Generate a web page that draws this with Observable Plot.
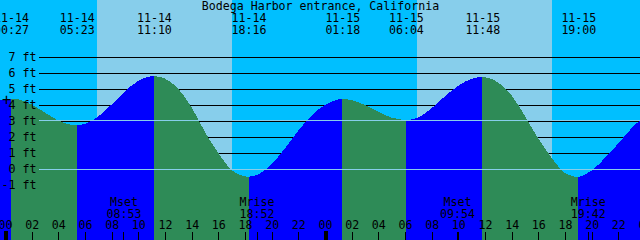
<!DOCTYPE html>
<html>
<head>
<meta charset="utf-8">
<script src="https://cdn.jsdelivr.net/npm/d3@7"></script>
<script src="https://cdn.jsdelivr.net/npm/@observablehq/plot@0.6"></script>
<style>
  html, body { margin: 0; padding: 0; background: #00BFFF; }
  svg { display: block; }
</style>
</head>
<body>
<div id="chart"></div>
<script>
// ---- data (hours since 11-14 00:00, heights in feet) ----
const title = "Bodega Harbor entrance, California";
const tideHours = [-0.375, 0, 0.45, 1, 2, 3, 4, 5, 5.383, 6, 7, 8, 9, 10, 11, 11.167, 12, 13, 14, 15, 16, 17, 18, 18.267, 19, 20, 21, 22, 23, 24, 25, 25.3, 26, 27, 28, 29, 30, 30.067, 31, 32, 33, 34, 35, 35.8, 36, 37, 38, 39, 40, 41, 42, 43, 44, 45, 46, 47, 47.625];
const tideFeet  = [4.30, 4.37, 4.40, 4.35, 4.03, 3.52, 3.03, 2.76, 2.73, 2.82, 3.29, 4.04, 4.86, 5.51, 5.80, 5.81, 5.65, 5.00, 3.85, 2.30, 1.00, -0.07, -0.46, -0.48, -0.33, 0.30, 1.30, 2.40, 3.35, 4.00, 4.35, 4.38, 4.31, 4.00, 3.58, 3.21, 3.06, 3.05, 3.22, 3.80, 4.55, 5.20, 5.64, 5.75, 5.74, 5.40, 4.60, 3.30, 1.90, 0.70, -0.25, -0.52, -0.10, 0.69, 1.60, 2.55, 3.05];
const tideEventHours = [0.45, 5.383, 11.167, 18.267, 25.3, 30.067, 35.8, 43];
const tideEventDates = ["11-14", "11-14", "11-14", "11-14", "11-15", "11-15", "11-15", "11-15"];
const tideEventTimes = ["00:27", "05:23", "11:10", "18:16", "01:18", "06:04", "11:48", "19:00"];
const moonEventHours = [8.883, 18.867, 33.9, 43.7];
const moonEventNames = ["Mset", "Mrise", "Mset", "Mrise"];
const moonEventTimes = ["08:53", "18:52", "09:54", "19:42"];
const sunriseHours = [6.9, 30.9];
const sunsetHours = [17.025, 41.025];
const hourTicks = [0, 2, 4, 6, 8, 10, 12, 14, 16, 18, 20, 22, 24, 26, 28, 30, 32, 34, 36, 38, 40, 42, 44, 46, 48];
const dayTicks = [0, 24, 48];
const depthLines = [0, 1, 2, 3, 4, 5, 6, 7];
const depthLabels = [-1, 0, 1, 2, 3, 4, 5, 6, 7];
const markFeet = [0, 3.0625];   // datum and mean level lines
const nowHour = [0.075];
const nowFeet = [4.33];

// ---- build ----
const xDomain = [-0.375, 47.625];
const yDomain = [-4.4375, 10.5625];
const pts = tideHours.map((h, i) => ({h, ft: tideFeet[i]}));
const segs = [];
let cur = [];
for (const p of pts) {
  cur.push(p);
  if (tideEventHours.includes(p.h)) { segs.push(cur); cur = [p]; }
}
if (cur.length > 1) segs.push(cur);
const areaData = segs.flatMap((s, k) => {
  const phase = s[s.length - 1].ft > s[0].ft ? "rise" : "fall";
  return s.map(p => ({...p, seg: k, phase}));
});
const days = sunriseHours.map((r, i) => ({r, s: sunsetHours[i]}));
const tideEvents = tideEventHours.map((h, i) => ({h, date: tideEventDates[i], time: tideEventTimes[i]}));
const moonEvents = moonEventHours.map((h, i) => ({h, name: moonEventNames[i], time: moonEventTimes[i]}));
const smallTicks = hourTicks.filter(h => !dayTicks.includes(h)).concat(moonEventHours);

const FONT = "DejaVu Sans Mono";
const FS = 11.6;
const txt = {fontFamily: FONT, fontSize: FS, fill: "black", lineAnchor: "middle"};

const chart = Plot.plot({
  width: 640,
  height: 240,
  margin: 0,
  style: {background: "#00BFFF", fontFamily: FONT},
  x: {domain: xDomain, axis: null},
  y: {domain: yDomain, axis: null},
  color: {domain: ["rise", "fall"], range: ["#0000FF", "#2E8B57"]},
  marks: [
    Plot.rect(days, {x1: "r", x2: "s", y1: yDomain[0], y2: yDomain[1], fill: "#87CEEB", shapeRendering: "crispEdges"}),
    Plot.ruleY(depthLines, {y: d => d, stroke: "black", strokeWidth: 1, insetLeft: 39, shapeRendering: "crispEdges"}),
    Plot.areaY(areaData, {x: "h", y1: yDomain[0], y2: "ft", z: "seg", fill: "phase", curve: "monotone-x", shapeRendering: "crispEdges"}),
    Plot.ruleY(markFeet, {y: d => d, stroke: "#87CEEB", strokeWidth: 1, insetLeft: 39, shapeRendering: "crispEdges"}),
    Plot.text(depthLabels, {...txt, y: d => d, text: d => `${d} ft`, frameAnchor: "left", dx: 36, textAnchor: "end"}),
    Plot.text(nowHour, {x: d => d, y: (d, i) => nowFeet[i], text: () => "+", fontFamily: FONT, fontSize: 15, fill: "black"}),
    Plot.text([title], {...txt, text: d => d, frameAnchor: "top", dy: 6}),
    Plot.text(tideEvents, {...txt, x: "h", text: "date", frameAnchor: "top", dy: 17.5}),
    Plot.text(tideEvents, {...txt, x: "h", text: "time", frameAnchor: "top", dy: 29.5}),
    Plot.text(moonEvents, {...txt, x: "h", text: "name", frameAnchor: "bottom", dy: -38.5}),
    Plot.text(moonEvents, {...txt, x: "h", text: "time", frameAnchor: "bottom", dy: -26.5}),
    Plot.text(hourTicks, {...txt, x: d => d, text: d => String(d % 24).padStart(2, "0"), frameAnchor: "bottom", dy: -15}),
    Plot.ruleX(smallTicks, {x: d => d, stroke: "black", strokeWidth: 1, insetTop: 232, shapeRendering: "crispEdges"}),
    Plot.ruleX(dayTicks, {x: d => d, stroke: "black", strokeWidth: 4, insetTop: 231, shapeRendering: "crispEdges"})
  ]
});
document.getElementById("chart").appendChild(chart);
</script>
</body>
</html>
